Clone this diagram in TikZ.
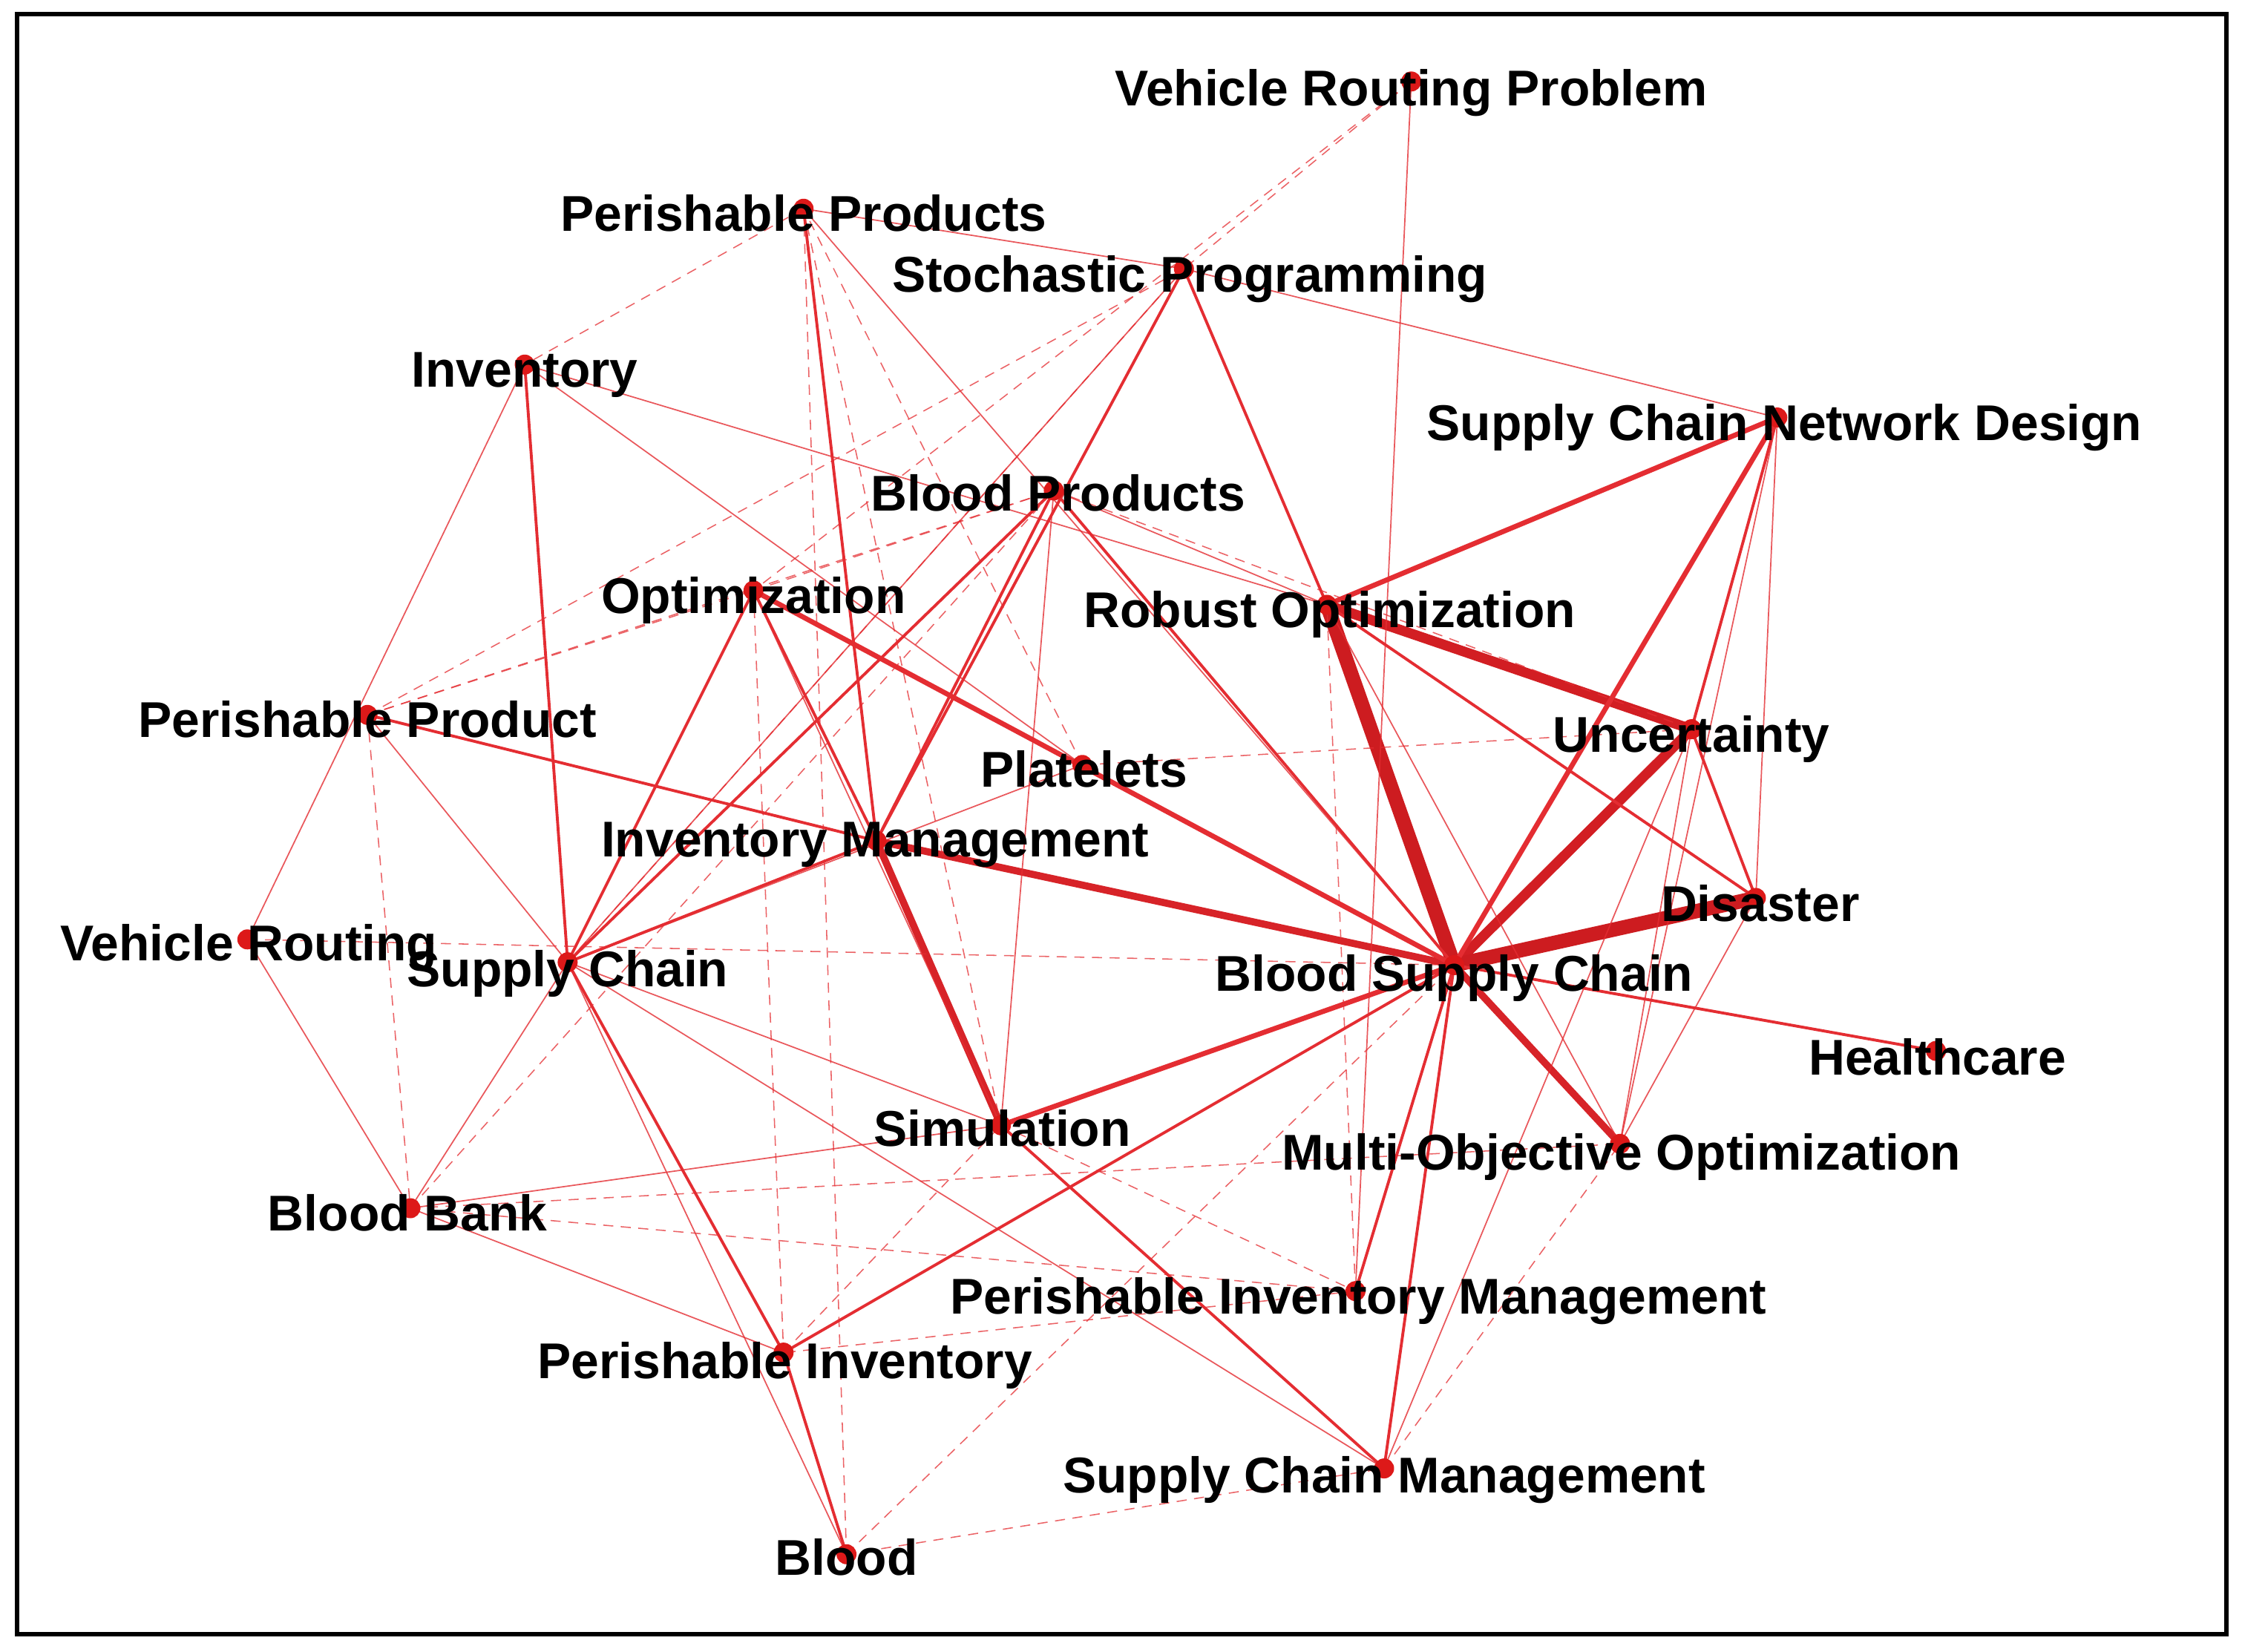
\documentclass[tikz,border=0pt]{standalone}
\usepackage{fontspec}
\setmainfont{Liberation Sans}
\begin{document}
\begin{tikzpicture}[x=0.01cm,y=-0.01cm,
  dot/.style={circle,fill=red!85!black!90,inner sep=0pt,minimum size=0.14cm},
  lbl/.style={font=\fontsize{10}{12}\selectfont\bfseries,inner sep=0pt},
  e/.style={draw={rgb,255:red,228;green,45;blue,50}},
  w0/.style={e,line width=0.008cm,dash pattern=on 2pt off 1.5pt,draw opacity=0.75},
  w1/.style={e,line width=0.009cm,draw opacity=0.8},
  w2/.style={e,line width=0.02cm},
  w3/.style={e,line width=0.035cm},
  w4/.style={e,line width=0.05cm,draw={rgb,255:red,215;green,35;blue,40}},
  w5/.style={e,line width=0.07cm,draw={rgb,255:red,210;green,30;blue,35}},
  w6/.style={e,line width=0.1cm,draw={rgb,255:red,205;green,28;blue,32}}]
\useasboundingbox (0,0) rectangle (1568,1155);
\draw[line width=0.03cm] (12,10) rectangle (1557,1143);
\foreach \n/\x/\y in {vrp/987/57, pps/562/146, sp/828/188, inv/367/255, scnd/1243/292,
  bp/737/343, opt/527/413, ro/928/423, pp/257/500, unc/1183/510, pl/757/535,
  im/613/588, dis/1228/628, vr/173/657, sc/397/673, bsc/1017/675, hc/1354/735,
  sim/700/787, moo/1133/800, bb/287/845, pim/948/903, pi/548/946, scm/968/1027, bl/592/1087}
  \coordinate (\n) at (\x,\y);
% thick edges
\draw[w6] (ro)--(bsc);
\draw[w5] (unc)--(bsc); \draw[w6] (dis)--(bsc);
\draw[w5] (ro)--(unc);
\draw[w4] (im)--(bsc); \draw[w4] (im)--(sim); \draw[w4] (bsc)--(moo);
\draw[w3] (sim)--(bsc); \draw[w3] (opt)--(bsc);
\draw[w3] (scnd)--(ro); \draw[w3] (scnd)--(bsc);
\draw[w2] (sp)--(ro); \draw[w2] (sp)--(im); \draw[w2] (bp)--(bsc);
\draw[w2] (pp)--(im); \draw[w2] (inv)--(sc); \draw[w2] (pps)--(im);
\draw[w2] (sc)--(pi); \draw[w2] (pi)--(bl); \draw[w2] (pi)--(bsc);
\draw[w2] (bsc)--(scm); \draw[w2] (bsc)--(pim); \draw[w2] (bsc)--(hc);
\draw[w2] (unc)--(dis); \draw[w2] (scnd)--(unc); \draw[w1] (scnd)--(dis);
\draw[w2] (opt)--(sc); \draw[w2] (opt)--(im); \draw[w1] (opt)--(sim);
\draw[w2] (bp)--(sc); \draw[w2] (bp)--(im); \draw[w2] (sim)--(scm);
\draw[w1] (pl)--(sc); \draw[w2] (im)--(sc); \draw[w2] (ro)--(dis); \draw[w1] (ro)--(moo);
\draw[w1] (sp)--(sc); \draw[w1] (unc)--(moo); \draw[w1] (dis)--(moo);
\draw[w1] (bp)--(ro); \draw[w1] (inv)--(ro); \draw[w1] (pps)--(bsc);
\draw[w1] (scnd)--(moo); \draw[w1] (unc)--(scm); \draw[w1] (sc)--(scm);
\draw[w1] (sc)--(sim); \draw[w1] (bp)--(sim); \draw[w1] (inv)--(pl);
\draw[w1] (pp)--(sc); \draw[w1] (vr)--(inv); \draw[w1] (vr)--(bb);
\draw[w1] (bb)--(pi); \draw[w1] (sc)--(bb); \draw[w1] (pl)--(bsc);
\draw[w1] (sp)--(scnd); \draw[w1] (vrp)--(pim); \draw[w1] (pps)--(sp);
\draw[w1] (bl)--(sc); \draw[w1] (sim)--(bb);
% dashed / dotted
\draw[w0] (pps)--(inv); \draw[w0] (pp)--(sp); \draw[w0] (pp)--(bp);
\draw[w0] (vrp)--(sp); \draw[w0] (vrp)--(opt); \draw[w0] (pp)--(opt);
\draw[w0] (bl)--(scm); \draw[w0] (bl)--(bsc); \draw[w0] (bb)--(moo);
\draw[w0] (bb)--(pim); \draw[w0] (vr)--(bsc); \draw[w0] (pp)--(bb);
\draw[w0] (pl)--(unc); \draw[w0] (opt)--(pi); \draw[w0] (pps)--(bl);
\draw[w0] (pps)--(sim); \draw[w0] (sc)--(sp); \draw[w0] (bb)--(bp);
\draw[w0] (pim)--(ro); \draw[w0] (pim)--(pi); \draw[w0] (sim)--(pim);
\draw[w0] (scm)--(moo); \draw[w0] (opt)--(bp); \draw[w0] (pi)--(sim);
\draw[w0] (bp)--(unc); \draw[w0] (pl)--(pps);
% dots
\foreach \n in {vrp,pps,sp,inv,scnd,bp,opt,ro,pp,unc,pl,im,dis,vr,sc,bsc,hc,sim,moo,bb,pim,pi,scm,bl}
  \node[dot] (n\n) at (\n) {};
% labels
\node[lbl] (lvrp) at (987,65) {Vehicle Routing Problem};
\node[lbl] (lpps) at (562,149) {Perishable Products};
\node[lbl] (lsp) at (832,195) {Stochastic Programming};
\node[lbl] (linv) at (367,262) {Inventory};
\node[lbl] (lscnd) at (1248,299) {Supply Chain Network Design};
\node[lbl] (lbp) at (740,345) {Blood Products};
\node[lbl] (lopt) at (527,420) {Optimization};
\node[lbl] (lro) at (930,430) {Robust Optimization};
\node[lbl] (lpp) at (257,503) {Perishable Product};
\node[lbl] (lunc) at (1183,517) {Uncertainty};
\node[lbl] (lpl) at (758,538) {Platelets};
\node[lbl] (lim) at (612,591) {Inventory Management};
\node[lbl] (ldis) at (1231,632) {Disaster};
\node[lbl] (lvr) at (174,663) {Vehicle Routing};
\node[lbl] (lsc) at (397,681) {Supply Chain};
\node[lbl] (lbsc) at (1017,684) {Blood Supply Chain};
\node[lbl] (lhc) at (1355,739) {Healthcare};
\node[lbl] (lsim) at (701,789) {Simulation};
\node[lbl] (lmoo) at (1134,809) {Multi-Objective Optimization};
\node[lbl] (lbb) at (285,848) {Blood Bank};
\node[lbl] (lpim) at (950,910) {Perishable Inventory Management};
\node[lbl] (lpi) at (549,955) {Perishable Inventory};
\node[lbl] (lscm) at (968,1035) {Supply Chain Management};
\node[lbl] (lbl) at (592,1089) {Blood};
\end{tikzpicture}
\end{document}
